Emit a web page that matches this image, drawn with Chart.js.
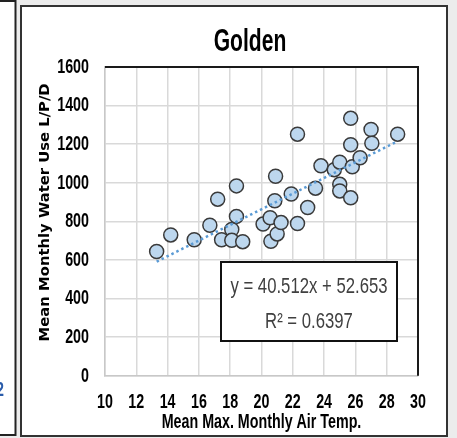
<!DOCTYPE html>
<html>
<head>
<meta charset="utf-8">
<script src="https://cdn.jsdelivr.net/npm/chart.js@4.4.1/dist/chart.umd.min.js"></script>
<style>
html,body{margin:0;padding:0;background:#ececec;}
#wrap{position:relative;width:457px;height:438px;}
</style>
</head>
<body>
<div id="wrap"><canvas id="c" width="457" height="438"></canvas></div>
<script>
// ---- data ----
const airTemp = [13.3, 14.2, 15.7, 16.7, 17.2, 17.45, 18.1, 18.1, 18.4, 18.4, 18.8,
  20.1, 20.55, 20.6, 20.85, 20.9, 21.0, 21.25, 21.9, 22.3, 22.3, 22.95, 23.45, 23.8,
  24.65, 25.0, 25.0, 25.0, 25.7, 25.7, 25.8, 26.3, 25.7, 27.0, 27.05, 28.7];
const waterUse = [644, 730, 705, 780, 915, 705, 758, 702, 826, 984, 695,
  786, 819, 697, 907, 1034, 735, 794, 942, 1252, 789, 872, 972, 1088,
  1068, 1107, 992, 958, 1334, 1197, 1083, 1130, 922, 1276, 1205, 1252];
const xTickLabels = ['10','12','14','16','18','20','22','24','26','28','30'];
const yTickLabels = ['0','200','400','600','800','1000','1200','1400','1600'];
const trendSlope = 40.512;
const trendIntercept = 52.653;
const rSquared = '0.6397';
const chartTitle = 'Golden';
const xTitle = 'Mean Max. Monthly Air Temp.';
const yTitle = 'Mean Monthly Water Use L/P/D';

const COND = "'Liberation Sans', Arial, sans-serif";   // drawn horizontally condensed (Calibri-like)
const CONDENSE = 0.68;

const points = airTemp.map((x, i) => ({x: x, y: waterUse[i]}));
const xMin = Math.min(...airTemp), xMax = Math.max(...airTemp);
const trend = [xMin, xMax].map(x => ({x: x, y: trendSlope * x + trendIntercept}));

// draw bold Liberation Sans text horizontally condensed, like the narrow Calibri of the original
const condensedText = {
  id: 'condensedText',
  beforeInit(chart) {
    const ctx = chart.ctx;
    const orig = ctx.fillText.bind(ctx);
    ctx.fillText = function (text, x, y, maxWidth) {
      if (/bold/.test(ctx.font) && /Liberation Sans/.test(ctx.font)) {
        ctx.save();
        ctx.translate(x, y);
        ctx.scale(CONDENSE, 1);
        orig(text, 0, 0);
        ctx.restore();
      } else {
        if (maxWidth !== undefined) orig(text, x, y, maxWidth); else orig(text, x, y);
      }
    };
  },
  afterLayout(chart) {
    // the original title sits a little right of the canvas centre
    if (chart.titleBlock) {
      chart.titleBlock.left += 26;
      chart.titleBlock.right += 26;
    }
    // the original y-axis title sits a little above the axis centre
    const s = chart.scales.y;
    if (s && !s._titleShifted) {
      s._titleShifted = true;
      const origDrawTitle = s.drawTitle.bind(s);
      s.drawTitle = function () {
        const t = this.top, b = this.bottom;
        this.top = t - 9; this.bottom = b - 9;
        origDrawTitle();
        this.top = t; this.bottom = b;
      };
    }
  }
};

const decor = {
  id: 'decor',
  beforeDraw(chart) {
    const ctx = chart.ctx;
    ctx.save();
    ctx.fillStyle = '#ececec';
    ctx.fillRect(0, 0, 457, 438);
    // neighbouring panel on the left
    ctx.fillStyle = '#ffffff';
    ctx.fillRect(0, 1, 15, 434);
    ctx.strokeStyle = '#222';
    ctx.lineWidth = 2;
    ctx.beginPath();
    ctx.moveTo(0, 1); ctx.lineTo(15.5, 1); ctx.lineTo(15.5, 435); ctx.lineTo(0, 435);
    ctx.stroke();
    ctx.fillStyle = '#2a5caa';
    ctx.font = "bold 21px " + COND;
    ctx.textBaseline = 'middle';
    ctx.textAlign = 'left';
    ctx.fillText('2', -4, 390);
    // main frame
    ctx.fillStyle = '#ffffff';
    ctx.fillRect(21, 6, 426, 430);
    ctx.strokeStyle = '#333';
    ctx.lineWidth = 2;
    ctx.strokeRect(21, 6, 426, 430);
    ctx.restore();
  },
  afterDatasetsDraw(chart) {
    const ctx = chart.ctx, a = chart.chartArea;
    ctx.save();
    // plot area top / right edges
    ctx.strokeStyle = '#1a1a1a';
    ctx.lineWidth = 2;
    ctx.beginPath();
    ctx.moveTo(a.left, a.top); ctx.lineTo(a.right, a.top); ctx.lineTo(a.right, a.bottom);
    ctx.stroke();
    // equation box
    const bx = a.left + 116, by = a.top + 195, bw = 176, bh = 79;
    ctx.fillStyle = '#fff';
    ctx.fillRect(bx, by, bw, bh);
    ctx.strokeStyle = '#111';
    ctx.lineWidth = 2;
    ctx.strokeRect(bx, by, bw, bh);
    ctx.fillStyle = '#404040';
    ctx.textAlign = 'center';
    ctx.textBaseline = 'middle';
    ctx.font = "22px " + COND;
    const lines = ['y = ' + trendSlope + 'x + ' + trendIntercept, 'R² = ' + rSquared];
    const ys = [by + 25, by + 60];
    lines.forEach((t, i) => {
      ctx.save();
      ctx.translate(bx + bw / 2, ys[i]);
      ctx.scale(0.76, 1);
      ctx.fillText(t, 0, 0);
      ctx.restore();
    });
    ctx.restore();
  }
};

new Chart(document.getElementById('c'), {
  type: 'scatter',
  data: {
    datasets: [
      {
        type: 'line',
        data: trend,
        borderColor: '#5b9bd5',
        borderWidth: 2.5,
        borderDash: [2.5, 3],
        pointRadius: 0,
        fill: false
      },
      {
        data: points,
        backgroundColor: '#bdd7ee',
        borderColor: '#3a3a3a',
        borderWidth: 1.5,
        pointRadius: 7,
        pointHoverRadius: 7
      }
    ]
  },
  options: {
    responsive: false,
    animation: false,
    devicePixelRatio: 1,
    layout: {padding: {left: 30, right: 39, top: 6, bottom: 3}},
    plugins: {
      legend: {display: false},
      tooltip: {enabled: false},
      title: {
        display: true,
        text: chartTitle,
        color: '#000',
        font: {family: COND, size: 31, weight: 'bold'},
        padding: {top: 17.4, bottom: 6.4}
      }
    },
    scales: {
      x: {
        type: 'linear',
        min: 10, max: 30,
        afterBuildTicks(scale) {
          scale.ticks = xTickLabels.map(v => ({value: Number(v)}));
        },
        ticks: {
          color: '#000',
          font: {family: COND, size: 21, weight: 'bold'},
          padding: 13.4,
          maxRotation: 0,
          autoSkip: false,
          callback: (v) => String(v)
        },
        grid: {color: '#d9d9d9', lineWidth: 1.5, drawTicks: false},
        border: {display: true, color: '#c8c8c8', width: 1.5},
        title: {
          display: true,
          text: xTitle,
          color: '#000',
          font: {family: COND, size: 21, weight: 'bold'},
          padding: {top: -18, bottom: 0}
        }
      },
      y: {
        type: 'linear',
        min: 0, max: 1600,
        afterBuildTicks(scale) {
          scale.ticks = yTickLabels.map(v => ({value: Number(v)}));
        },
        afterFit(scale) { scale.width = 75; },
        ticks: {
          color: '#000',
          font: {family: COND, size: 21, weight: 'bold'},
          padding: 16,
          autoSkip: false,
          callback: (v) => String(v)
        },
        grid: {color: '#d9d9d9', lineWidth: 1.5, drawTicks: false},
        border: {display: true, color: '#c8c8c8', width: 1.5},
        title: {
          display: true,
          text: yTitle,
          color: '#000',
          font: {family: "'DejaVu Sans', sans-serif", size: 14.8, weight: 'bold'},
          padding: {top: 6.5, bottom: 0}
        }
      }
    }
  },
  plugins: [condensedText, decor]
});
</script>
</body>
</html>
